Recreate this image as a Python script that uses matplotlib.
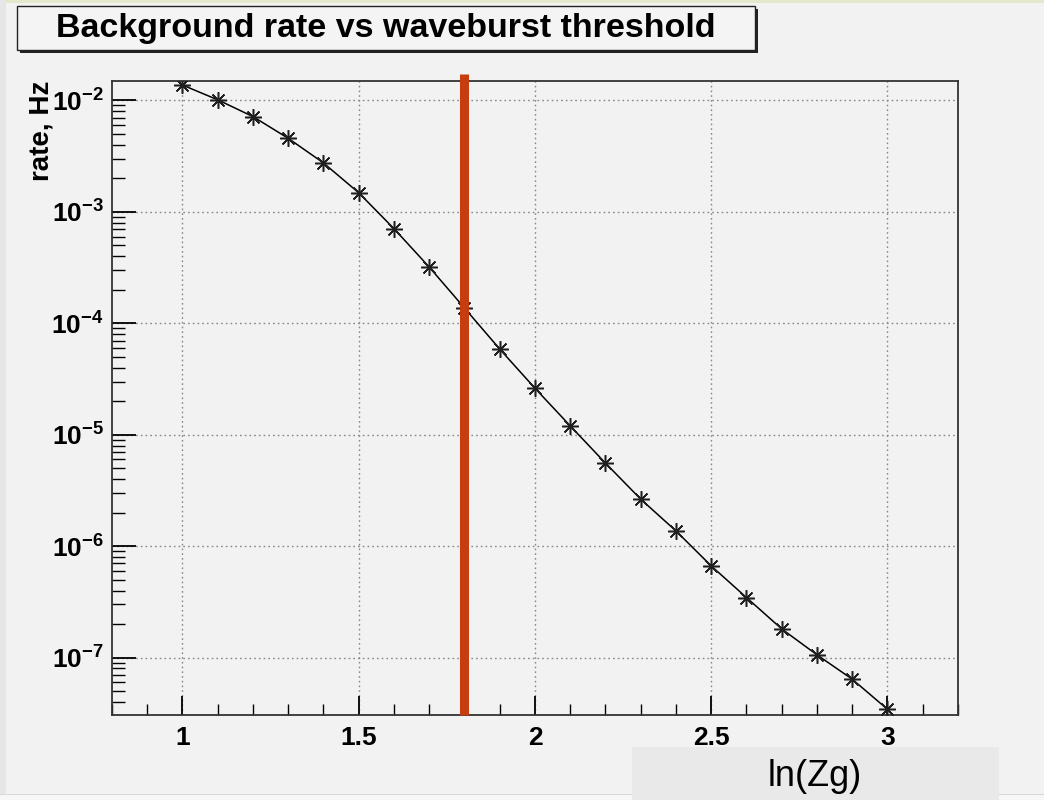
import numpy as np
import matplotlib
matplotlib.use("Agg")
from matplotlib import pyplot as plt
from matplotlib.patches import Rectangle
from matplotlib.ticker import MultipleLocator, LogLocator, FuncFormatter, NullFormatter

# data
threshold = [1.0, 1.1, 1.2, 1.3, 1.4, 1.5, 1.6, 1.7, 1.8, 1.9, 2.0,
             2.1, 2.2, 2.3, 2.4, 2.5, 2.6, 2.7, 2.8, 2.9, 3.0]
rate = [1.37e-2, 1.01e-2, 7.14e-3, 4.56e-3, 2.74e-3, 1.48e-3, 7.05e-4,
        3.19e-4, 1.37e-4, 5.86e-5, 2.61e-5, 1.20e-5, 5.56e-6, 2.64e-6,
        1.37e-6, 6.65e-7, 3.46e-7, 1.81e-7, 1.06e-7, 6.41e-8, 3.44e-8]
cut = 1.8
title = "Background rate vs waveburst threshold"
xlabel = "ln(Zg)"
ylabel = "rate, Hz"

bg = "#f2f2f2"
plt.rcParams['font.family'] = ['Liberation Sans', 'DejaVu Sans']
plt.rcParams['mathtext.fontset'] = 'custom'
plt.rcParams['mathtext.rm'] = 'Liberation Sans'
plt.rcParams['mathtext.bf'] = 'Liberation Sans:bold'

W, H = 1044, 800
fig = plt.figure(figsize=(W / 100, H / 100), dpi=100, facecolor=bg)

def fx(px):
    return px / W

def fy(py):
    return 1 - py / H

# window decorations
fig.patches.append(Rectangle((0, fy(3)), 1, 3 / H, transform=fig.transFigure,
                             facecolor="#e4e8cc", edgecolor="none"))
fig.patches.append(Rectangle((0, 0), fx(6), 1, transform=fig.transFigure,
                             facecolor="#e6e6e6", edgecolor="none"))
fig.patches.append(Rectangle((0, 0), 1, 6 / H, transform=fig.transFigure,
                             facecolor="#f7f7f7", edgecolor="none"))
fig.patches.append(Rectangle((0, fy(795)), 1, 1.5 / H, transform=fig.transFigure,
                             facecolor="#d8d8d8", edgecolor="none"))

ax = fig.add_axes([fx(112), fy(715), fx(958) - fx(112), fy(81) - fy(715)])
ax.set_facecolor(bg)

ax.plot(threshold, rate, color='black', lw=1.1, zorder=3)
ax.plot(threshold, rate, linestyle='none', marker=(8, 2, 0), markersize=12,
        markeredgecolor='#202020', markeredgewidth=1.1, zorder=4)
ax.axvline(cut, ymin=0, ymax=1 + 7 / 634, color='#c63d0f', lw=6.5,
           solid_capstyle='butt', clip_on=False, zorder=5)

ax.set_yscale('log')
ax.set_xlim(0.8, 3.2)
ax.set_ylim(3.06e-8, 1.49e-2)

ax.xaxis.set_major_locator(MultipleLocator(0.5))
ax.xaxis.set_minor_locator(MultipleLocator(0.1))
ax.xaxis.set_major_formatter(FuncFormatter(lambda v, p: "%g" % v))
ax.yaxis.set_major_locator(LogLocator(base=10, numticks=20))
ax.yaxis.set_minor_locator(LogLocator(base=10, subs=np.arange(2, 10), numticks=20))
ax.yaxis.set_major_formatter(FuncFormatter(
    lambda v, p: r"$\mathbf{10^{%d}}$" % int(round(np.log10(v)))))
ax.yaxis.set_minor_formatter(NullFormatter())

ax.tick_params(which='both', direction='in', top=False, right=False, color='black')
ax.tick_params(axis='x', which='major', length=14, width=1.3, pad=8, labelsize=19)
ax.tick_params(axis='x', which='minor', length=8, width=1.0)
ax.tick_params(axis='y', which='major', length=17, width=1.3, pad=6, labelsize=19)
ax.tick_params(axis='y', which='minor', length=9, width=1.0)
for lab in ax.get_xticklabels():
    lab.set_fontweight('bold')

for s in ax.spines.values():
    s.set_linewidth(1.3)
    s.set_color('#333333')

ax.grid(True, which='major', color='#888888', linestyle=(0, (1.2, 2.2)), lw=1.0)
ax.set_axisbelow(True)

ax.set_ylabel(ylabel, fontsize=20, fontweight='bold', loc='top')
ax.yaxis.set_label_coords(-0.068, 1.0)

# title box with shadow
fig.patches.append(Rectangle((fx(20), fy(53)), fx(755) - fx(17), (50 - 6) / H,
                             transform=fig.transFigure, facecolor='#222222',
                             edgecolor='none'))
fig.patches.append(Rectangle((fx(17), fy(50)), fx(755) - fx(17), (50 - 6) / H,
                             transform=fig.transFigure, facecolor='#f4f4f4',
                             edgecolor='#222222', lw=1.0))
fig.text(fx(386), fy(28), title, ha='center', va='center', fontsize=24.5,
         fontweight='bold')

# x label box
fig.patches.append(Rectangle((fx(632), 0), fx(999) - fx(632), 53 / H,
                             transform=fig.transFigure, facecolor='#e9e9e9',
                             edgecolor='none'))
fig.text(fx(815), fy(777), xlabel, ha='center', va='center', fontsize=26)

fig.savefig("out.png", dpi=100, facecolor=bg)
